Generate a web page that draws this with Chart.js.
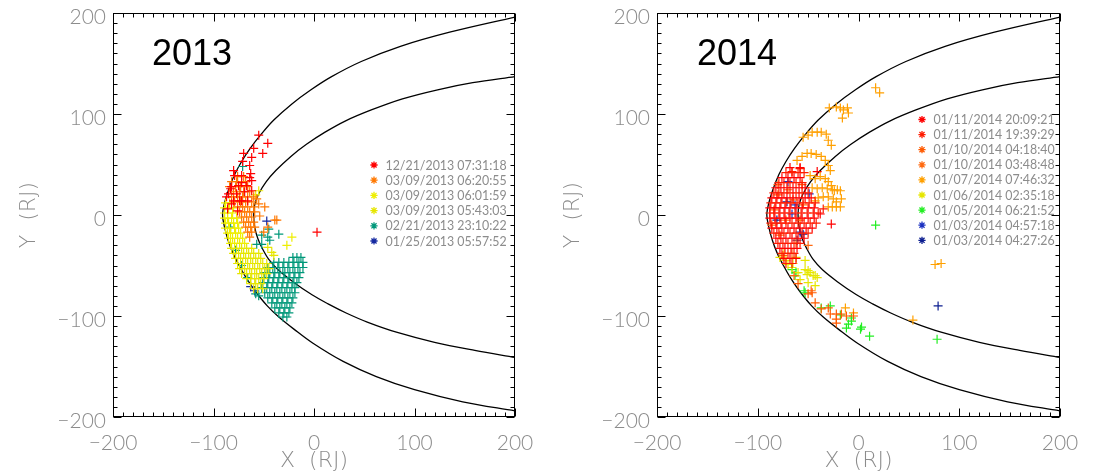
<!DOCTYPE html>
<html>
<head>
<meta charset="utf-8">
<script src="https://cdn.jsdelivr.net/npm/chart.js@4.4.1/dist/chart.umd.min.js"></script>
<style>
  html, body { margin: 0; padding: 0; background: #fff; }
  #wrap { position: relative; width: 1098px; height: 474px; overflow: hidden; }
  .panel { position: absolute; top: 0; height: 474px; }
  #p2013 { left: 0; width: 544px; }
  #p2014 { left: 544px; width: 554px; }
</style>
</head>
<body>
<div id="wrap">
  <div class="panel" id="p2013"><canvas id="c2013"></canvas></div>
  <div class="panel" id="p2014"><canvas id="c2014"></canvas></div>
</div>
<script>
// axis range and tick marks (RJ)
const AXIS_MIN = -200;
const AXIS_MAX = 200;
const MAJOR_STEP = 100;
const MINOR_STEP = 10;

// model boundaries: outer = bow shock, inner = magnetopause
const bowShock = [[200,196],[135,181],[86,167],[47,152],[17.5,137],[-3,124],[-22,110],[-40,94],[-52.5,80],[-63.5,66],[-72,53],[-79,40],[-85,25],[-89,12],[-91,0],[-89,-12],[-85.5,-25],[-81,-37],[-74.5,-50],[-67,-63],[-58,-76],[-46.5,-90],[-35,-101],[-20,-113],[-1,-127],[29,-145],[62,-160],[100,-173],[148,-185],[200,-194]];
const magnetopause = [[200,137],[158,131],[123,124],[88,115],[57,104],[31,93],[11,82],[-7.5,70],[-23,58],[-38,44],[-47.5,33],[-55,21],[-59,10],[-60,0],[-59,-12],[-56,-23],[-51.5,-33],[-45,-44],[-36,-54],[-21,-66],[-2,-79],[14,-88],[32,-97],[53,-106],[82,-116],[120,-126],[160,-134],[200,-141]];

// ---- 2013 events ----
const labels2013 = ['12/21/2013 07:31:18', '03/09/2013 06:20:55', '03/09/2013 06:01:59', '03/09/2013 05:43:03', '02/21/2013 23:10:22', '01/25/2013 05:57:52'];
const colors2013 = ['#ff0000', '#ff7800', '#eeee00', '#e6e600', '#00987a', '#1428a0'];

const red2013 = [[-55,79],[-46,71],[-60,66],[-51,61],[-70,61],[-71,53],[-62,57],[-64,49],[-80,44],[-63,41],[-79,39],[-72,39],[-64,37],[-82,28],[-75,29],[-67,29],[-85,21],[-77,21],[-69,23],[-62,24],[-80,14],[-72,14],[-62,34],[-72,32],[-83,26],[-87,18],[-74,14],[-66,14],[-82,11],[-86,6],[-76,4],[3,-17]];
const orange2013 = [[-76,38],[-70,38],[-82,33],[-77,33],[-68,33],[-84,28],[-78,28],[-73,28],[-66,28],[-80,23],[-74,23],[-70,23],[-64,23],[-82,18],[-76,18],[-71,18],[-66,18],[-60,18],[-79,13],[-73,13],[-68,13],[-62,13],[-76,8],[-71,8],[-66,8],[-60,8],[-74,3],[-69,3],[-64,3],[-59,3],[-72,-2],[-67,-2],[-62,-2],[-70,-7],[-65,-7],[-60,-7],[-68,-12],[-63,-12],[-59,-12],[-66,-17],[-62,-17],[-64,-22],[-49,8],[-55,11],[-57,16],[-39,-5],[-50,-17],[-54,-1],[-46,-12],[-37,-5]];
const yellowA2013 = [[-88,12],[-84,12],[-89,7],[-85,7],[-80,7],[-89,2],[-86,2],[-81,2],[-89,-3],[-86,-3],[-82,-3],[-77,-3],[-88,-8],[-85,-8],[-80,-8],[-76,-8],[-88,-13],[-84,-13],[-79,-13],[-75,-13],[-86,-18],[-83,-18],[-78,-18],[-73,-18],[-85,-23],[-81,-23],[-76,-23],[-71,-23],[-83,-28],[-79,-28],[-74,-28],[-69,-28],[-22,-22],[-27,-30],[-55,24],[-58,20]];
const yellowB2013 = [[-82,-33],[-77,-33],[-72,-33],[-67,-33],[-62,-33],[-80,-38],[-75,-38],[-70,-38],[-65,-38],[-60,-38],[-55,-38],[-78,-43],[-73,-43],[-68,-43],[-63,-43],[-58,-43],[-53,-43],[-76,-48],[-71,-48],[-66,-48],[-61,-48],[-56,-48],[-51,-48],[-47,-48],[-74,-53],[-69,-53],[-64,-53],[-59,-53],[-54,-53],[-49,-53],[-45,-53],[-72,-58],[-67,-58],[-62,-58],[-57,-58],[-52,-58],[-47,-58],[-67,-63],[-63,-63],[-59,-63],[-55,-63],[-50,-63],[-63,-68],[-58,-68],[-53,-68],[-60,-73],[-56,-73],[-51,-73],[-40,-40],[-42,-37],[-46,-32]];
const teal2013 = [[-21,-42],[-17,-42],[-13,-42],[-40,-47],[-35,-47],[-30,-47],[-25,-47],[-20,-47],[-15,-47],[-11,-47],[-46,-52],[-41,-52],[-36,-52],[-31,-52],[-26,-52],[-21,-52],[-16,-52],[-11,-52],[-49,-57],[-44,-57],[-39,-57],[-34,-57],[-29,-57],[-24,-57],[-19,-57],[-14,-57],[-50,-62],[-45,-62],[-40,-62],[-35,-62],[-30,-62],[-25,-62],[-20,-62],[-15,-62],[-51,-67],[-46,-67],[-41,-67],[-36,-67],[-31,-67],[-26,-67],[-21,-67],[-17,-67],[-52,-72],[-47,-72],[-42,-72],[-37,-72],[-32,-72],[-27,-72],[-22,-72],[-19,-72],[-49,-77],[-44,-77],[-39,-77],[-34,-77],[-29,-77],[-24,-77],[-19,-77],[-46,-82],[-41,-82],[-36,-82],[-31,-82],[-26,-82],[-21,-82],[-42,-87],[-37,-87],[-32,-87],[-27,-87],[-22,-87],[-39,-92],[-34,-92],[-29,-92],[-24,-92],[-35,-97],[-30,-97],[-25,-97],[-31,-101],[-27,-101],[-52,-20],[-46,-22],[-35,-19],[-57,-29],[-45,-14],[-44,-25],[-52,-29],[-71,48],[-83,-12],[-78,-35],[-72,-50],[-66,-62],[-58,-78],[-55,-80]];
const blue2013 = [[-47,-6],[-59,-75],[-63,-71]];

// ---- 2014 events ----
const labels2014 = ['01/11/2014 20:09:21', '01/11/2014 19:39:29', '01/10/2014 04:18:40', '01/10/2014 03:48:48', '01/07/2014 07:46:32', '01/06/2014 02:35:18', '01/05/2014 06:21:52', '01/03/2014 04:57:18', '01/03/2014 04:27:26'];
const colors2014 = ['#ff0000', '#ff1c00', '#ff5a00', '#ff6a10', '#ffa000', '#e6e600', '#22ee22', '#1a30c0', '#0c1e90'];

const redA2014 = [[-68,47],[-58,47],[-76,37],[-70,37],[-64,37],[-58,37],[-82,27],[-77,27],[-71,27],[-65,27],[-59,27],[-53,27],[-86,17],[-81,17],[-76,17],[-71,17],[-65,17],[-59,17],[-53,17],[-47,17],[-88,7],[-83,7],[-78,7],[-73,7],[-68,7],[-62,7],[-56,7],[-50,7],[-44,7],[-88,-3],[-83,-3],[-78,-3],[-73,-3],[-68,-3],[-62,-3],[-56,-3],[-50,-3],[-44,-3],[-86,-13],[-81,-13],[-76,-13],[-70,-13],[-64,-13],[-58,-13],[-52,-13],[-46,-13],[-82,-23],[-77,-23],[-72,-23],[-66,-23],[-60,-23],[-54,-23],[-78,-33],[-73,-33],[-67,-33],[-61,-33],[-74,-43],[-68,-43],[-62,-43],[-27,-9],[-38,1],[-41,43]];
const redB2014 = [[-72,42],[-66,42],[-60,42],[-54,42],[-79,32],[-74,32],[-68,32],[-62,32],[-56,32],[-84,22],[-79,22],[-74,22],[-68,22],[-62,22],[-56,22],[-50,22],[-87,12],[-82,12],[-77,12],[-72,12],[-67,12],[-61,12],[-55,12],[-49,12],[-43,12],[-88,2],[-84,2],[-79,2],[-74,2],[-69,2],[-63,2],[-57,2],[-51,2],[-45,2],[-40,2],[-87,-8],[-82,-8],[-77,-8],[-72,-8],[-66,-8],[-60,-8],[-54,-8],[-48,-8],[-42,-8],[-84,-18],[-79,-18],[-74,-18],[-68,-18],[-62,-18],[-56,-18],[-50,-18],[-80,-28],[-75,-28],[-70,-28],[-64,-28],[-58,-28],[-76,-38],[-70,-38],[-64,-38],[-72,-48],[-66,-48],[-66,43],[-58,46],[-35,6]];
const orangeRedA2014 = [[-60,-68],[-50,-78],[-46,-77],[-43,-87],[-37,-93],[-30,-92],[-28,-98],[-22,-98],[-22,-103],[-22,-107],[-17,-98],[-12,-100],[-5,-100],[-80,20],[-62,-28],[-56,30]];
const orangeRedB2014 = [[-84,5],[-78,-20],[-70,25],[-80,30],[-55,10],[-75,-40],[-65,15],[-86,-10],[-58,-5],[-47,-75],[-64,-60],[-72,-5],[-66,-38],[-50,-30]];
const orange2014 = [[17,126],[21,121],[-29,106],[-22,107],[-18,106],[-15,104],[-11,106],[-10,101],[-16,96],[-55,77],[-50,79],[-46,82],[-41,82],[-37,82],[-32,80],[-30,74],[-27,69],[-61,54],[-56,58],[-51,61],[-47,61],[-42,60],[-37,58],[-33,54],[-30,49],[-28,44],[-48,39],[-43,36],[-38,38],[-33,36],[-30,33],[-27,29],[-24,24],[-46,27],[-41,26],[-36,27],[-31,26],[-26,25],[-21,25],[-18,24],[-43,14],[-40,17],[-35,18],[-30,18],[-25,16],[-22,13],[-17,16],[-30,8],[-26,8],[-22,8],[-18,8],[76,-49],[82,-48],[54,-104],[-13,-92],[-5,-97]];
const yellow2014 = [[-66,-52],[-60,-57],[-53,-54],[-51,-59],[-48,-57],[-43,-60],[-58,-64],[-50,-67],[-43,-70],[-78,-42],[-72,-45],[-65,-48],[-53,-45],[-50,-55],[-45,-60],[-41,-62],[-70,-49],[-74,-38],[-62,-42]];
const green2014 = [[-53,-77],[-37,-92],[-28,-90],[-18,-99],[-7,-102],[-7,-105],[-10,-108],[-12,-112],[2,-113],[3,-111],[11,-120],[-62,-57],[-54,-75],[-63,-60],[-66,-54],[17,-10],[78,-123]];
const blue2014 = [[-49,21],[-70,33],[-63,10],[-58,-17],[-66,1]];
const navy2014 = [[79,-90],[-71,13],[-81,-5],[-55,-19],[-61,-25]];

const series2013 = [red2013, orange2013, yellowA2013, yellowB2013, teal2013, blue2013];
const series2014 = [redA2014, redB2014, orangeRedA2014, orangeRedB2014, orange2014, yellow2014, green2014, blue2014, navy2014];

const GRAY = '#8c8c8c';
const TICK_FONT = { family: 'Lato, "DejaVu Sans", sans-serif', size: 21, weight: 300 };
const TITLE_FONT = { family: '"DejaVu Sans", sans-serif', size: 22, weight: 200, lineHeight: 1.2 };

function toXY(pairs) {
  return pairs.map(([x, y]) => ({ x, y }));
}

function fmtTick(v) {
  return v < 0 ? '\u2212' + Math.abs(v) : String(v);
}

// chart.js adds room for edge tick labels; the box is fixed here instead
function fixBox(size, horizontal) {
  return s => {
    if (horizontal) { s.height = size; s.paddingLeft = 0; s.paddingRight = 0; }
    else { s.width = size; s.paddingTop = 0; s.paddingBottom = 0; }
  };
}

function drawStar(ctx, cx, cy, r, color) {
  ctx.strokeStyle = color;
  ctx.lineWidth = 1.3;
  ctx.beginPath();
  for (let k = 0; k < 4; k++) {
    const ang = k * Math.PI / 4;
    const dx = Math.cos(ang) * r, dy = Math.sin(ang) * r;
    ctx.moveTo(cx - dx, cy - dy);
    ctx.lineTo(cx + dx, cy + dy);
  }
  ctx.stroke();
}

// box with inward ticks on all sides, year tag and the event legend
const framePlugin = {
  id: 'frame',
  afterDatasetsDraw(chart, args, opts) {
    const { ctx, chartArea: a } = chart;
    const xs = chart.scales.x, ys = chart.scales.y;
    const L = Math.round(a.left) + 0.5, R = Math.round(a.right) - 0.5;
    const T = Math.round(a.top) + 0.5, B = Math.round(a.bottom) - 0.5;
    ctx.save();
    ctx.strokeStyle = '#000';
    ctx.lineWidth = 1;
    ctx.strokeRect(L, T, R - L, B - T);
    ctx.beginPath();
    for (let v = AXIS_MIN; v <= AXIS_MAX; v += MINOR_STEP) {
      const len = v % MAJOR_STEP === 0 ? 8 : 4;
      const px = Math.round(xs.getPixelForValue(v)) + 0.5;
      ctx.moveTo(px, B); ctx.lineTo(px, B - len);
      ctx.moveTo(px, T); ctx.lineTo(px, T + len);
      const py = Math.round(ys.getPixelForValue(v)) + 0.5;
      ctx.moveTo(L, py); ctx.lineTo(L + len, py);
      ctx.moveTo(R, py); ctx.lineTo(R - len, py);
    }
    ctx.stroke();

    ctx.fillStyle = '#000';
    ctx.font = '36px "Liberation Sans", Arial, sans-serif';
    ctx.textBaseline = 'alphabetic';
    ctx.textAlign = 'left';
    ctx.fillText(opts.year, a.left + opts.yearX, a.top + opts.yearY);

    ctx.font = '12.4px Lato, "DejaVu Sans", sans-serif';
    ctx.textBaseline = 'middle';
    let row = 0;
    chart.data.datasets.forEach(ds => {
      if (ds.boundary) return;
      const cx = a.left + opts.legendX;
      const cy = a.top + opts.legendY + row * opts.legendStep;
      drawStar(ctx, cx, cy, 3.6, ds.borderColor);
      ctx.fillStyle = GRAY;
      ctx.fillText(ds.label, cx + 11.5, cy + 0.5);
      row++;
    });
    ctx.restore();
  }
};

function buildDatasets(series, labels, colors) {
  const sets = series.map((pts, i) => ({
    label: labels[i],
    data: toXY(pts),
    borderColor: colors[i],
    backgroundColor: colors[i],
    pointStyle: 'cross',
    pointRadius: 4.5,
    pointBorderWidth: 1.2,
    pointHoverRadius: 4.5,
    showLine: false
  }));
  [bowShock, magnetopause].forEach(curve => {
    sets.push({
      boundary: true,
      data: toXY(curve),
      showLine: true,
      borderColor: '#000',
      borderWidth: 1.3,
      pointRadius: 0,
      tension: 0.35,
      fill: false
    });
  });
  return sets;
}

function makeChart(canvasId, series, labels, colors, frameOpts, padRight) {
  return new Chart(document.getElementById(canvasId), {
    type: 'scatter',
    data: { datasets: buildDatasets(series, labels, colors) },
    options: {
      responsive: true,
      maintainAspectRatio: false,
      animation: false,
      layout: { padding: { top: 13, right: padRight, bottom: 0, left: 0 } },
      plugins: {
        legend: { display: false },
        tooltip: { enabled: false },
        frame: frameOpts
      },
      scales: {
        x: {
          type: 'linear',
          min: AXIS_MIN,
          max: AXIS_MAX,
          afterFit: fixBox(57, true),
          grid: { display: false, drawTicks: false, tickLength: 0 },
          border: { display: false },
          ticks: { stepSize: MAJOR_STEP, autoSkip: false, maxRotation: 0, padding: 14, color: GRAY, font: TICK_FONT, callback: fmtTick },
          title: { display: true, text: 'X  (RJ)', color: GRAY, font: TITLE_FONT, padding: { top: 0, bottom: 0 } }
        },
        y: {
          type: 'linear',
          min: AXIS_MIN,
          max: AXIS_MAX,
          afterFit: fixBox(113, false),
          grid: { display: false, drawTicks: false, tickLength: 0 },
          border: { display: false },
          ticks: { stepSize: MAJOR_STEP, autoSkip: false, padding: 7, labelOffset: 4, color: GRAY, font: TICK_FONT, callback: fmtTick },
          title: { display: true, text: 'Y  (RJ)', color: GRAY, font: TITLE_FONT, padding: { top: 16, bottom: 0 } }
        }
      }
    },
    plugins: [framePlugin]
  });
}

makeChart('c2013', series2013, labels2013, colors2013,
  { year: '2013', yearX: 39, yearY: 52, legendX: 261, legendY: 152, legendStep: 15.2 }, 29);
makeChart('c2014', series2014, labels2014, colors2014,
  { year: '2014', yearX: 40, yearY: 52, legendX: 265, legendY: 106.5, legendStep: 15.1 }, 38);
</script>
</body>
</html>
